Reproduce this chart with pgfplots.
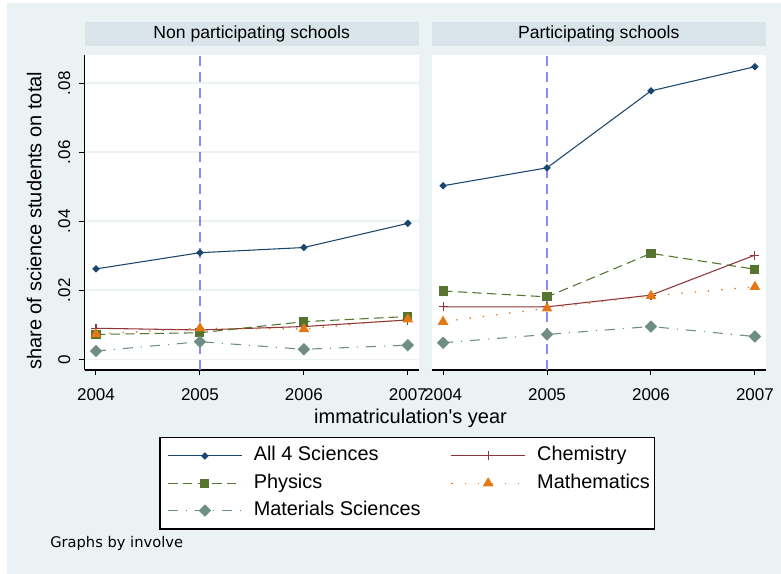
\documentclass[border=0pt]{standalone}
\usepackage{pgfplots}
\pgfplotsset{compat=1.18}
\usepackage{fontspec}
\setmainfont{Liberation Sans}
\newfontfamily\plainsans{Liberation Sans}
\newfontfamily\notefont{DejaVu Sans}

\definecolor{bgc}{RGB}{234,242,243}
\definecolor{stripc}{RGB}{216,228,234}
\definecolor{snavy}{RGB}{26,71,111}
\definecolor{smaroon}{RGB}{144,53,59}
\definecolor{sgreen}{RGB}{85,117,47}
\definecolor{sorange}{RGB}{230,120,20}
\definecolor{steal}{RGB}{110,142,132}
\definecolor{slav}{RGB}{140,140,240}

% Shares of science students: year, all four sciences, chemistry, physics, mathematics, materials
\pgfplotstableread{
year  all     chem    phys    math    mat
2004  0.0262  0.0090  0.0072  0.0073  0.0024
2005  0.0309  0.0085  0.0077  0.0090  0.0051
2006  0.0324  0.0095  0.0109  0.0088  0.0029
2007  0.0394  0.0114  0.0124  0.0116  0.0041
}\nonpart
\pgfplotstableread{
year  all     chem    phys    math    mat
2004  0.0503  0.0152  0.0198  0.0109  0.0048
2005  0.0555  0.0152  0.0181  0.0148  0.0072
2006  0.0778  0.0186  0.0307  0.0184  0.0095
2007  0.0848  0.0302  0.0261  0.0210  0.0066
}\part

\tikzset{
  vline/.style={draw=slav, line width=1.2pt, dash pattern=on 7.5pt off 4.5pt},
}

\pgfplotsset{
  panel/.style={
    scale only axis,
    width=250.5pt, height=236.25pt,
    xmin=2003.891, xmax=2007.104,
    ymin=-0.0031, ymax=0.0882,
    axis background/.style={fill=white},
    axis x line*=bottom,
    axis line style={black, line width=1pt},
    xtick={2004,2005,2006,2007},
    xticklabels={2004,2005,2006,2007},
    ytick={0,0.02,0.04,0.06,0.08},
    scaled y ticks=false,
    ymajorgrids,
    grid style={color=bgc, line width=1.2pt},
    tick align=outside,
    major tick length=4pt,
    tick style={black, line width=0.75pt},
    /pgf/number format/assume math mode=true,
    xticklabel style={font=\fontsize{12.75}{14}\selectfont, inner sep=0pt, anchor=north},
    xticklabel shift=10pt,
    title style={at={(0.5,1)}, anchor=south, yshift=0.75pt, fill=stripc,
      minimum width=250.5pt, minimum height=17.5pt, inner sep=0pt,
      font=\fontsize{13.2}{15}\selectfont},
    clip=false,
  },
  allst/.style={snavy, line width=0.8pt, mark=square*, mark size=1.6pt,
    mark options={rotate=45, solid}},
  chemst/.style={smaroon, line width=0.8pt, mark=+, mark size=3.4pt,
    mark options={solid}},
  physst/.style={sgreen, line width=0.8pt, dash pattern=on 7pt off 4pt,
    mark=square*, mark size=3pt, mark options={solid}},
  mathst/.style={sorange, line width=1pt, dash pattern=on 1pt off 9pt,
    mark=triangle*, mark size=3.6pt, mark options={solid}},
  matst/.style={steal, line width=0.8pt,
    dash pattern=on 7.5pt off 6pt on 0.8pt off 6pt,
    mark=square*, mark size=2.9pt, mark options={rotate=45, solid}},
}

\begin{document}
\begin{tikzpicture}
\useasboundingbox (0pt,0pt) rectangle (585.75pt,430.5pt);
\fill[white] (0pt,0pt) rectangle (585.75pt,430.5pt);
\fill[bgc] (5.25pt,0pt) rectangle (585.75pt,428.25pt);

\begin{axis}[panel,
  at={(63.5pt,153pt)}, anchor=south west,
  title={Non participating schools},
  axis y line*=left,
  yticklabels={0,.02,.04,.06,.08},
  yticklabel style={font=\fontsize{12.75}{14}\selectfont, rotate=90,
    anchor=south, inner sep=0pt},
  yticklabel shift=6.5pt,
  legend columns=2,
  legend cell align=left,
  legend image code/.code={%
    \draw[mark repeat=2, mark phase=2, #1]
      plot coordinates {(0pt,0pt) (27.5pt,0pt) (55pt,0pt)};},
  legend style={
    at={(axis description cs:0.2238,-0.2127)}, anchor=north west,
    draw=black, line width=0.9pt, fill=white,
    inner xsep=5.75pt, inner ysep=5pt,
    font=\fontsize{14.9}{17}\selectfont,
    row sep=3pt,
    nodes={inner xsep=2pt, inner ysep=2pt, text height=10.5pt, text depth=3pt},
    /tikz/every odd column/.append style={column sep=6.8pt},
    /tikz/every even column/.append style={column sep=20.7pt},
  },
]
% policy start year
\draw[vline] (axis cs:2005,-0.0031) -- (axis cs:2005,0.0882);
\addplot[allst]  table[x=year, y=all]  {\nonpart};
\addplot[chemst] table[x=year, y=chem] {\nonpart};
\addplot[physst] table[x=year, y=phys] {\nonpart};
\addplot[mathst] table[x=year, y=math] {\nonpart};
\addplot[matst]  table[x=year, y=mat]  {\nonpart};
\legend{All 4 Sciences, Chemistry, Physics, Mathematics\hspace*{-4.5pt}, Materials Sciences}
\end{axis}

\begin{axis}[panel,
  at={(323.8pt,153pt)}, anchor=south west,
  title={Participating schools},
  axis y line=none,
  yticklabels={},
]
\draw[vline] (axis cs:2005,-0.0031) -- (axis cs:2005,0.0882);
\addplot[allst]  table[x=year, y=all]  {\part};
\addplot[chemst] table[x=year, y=chem] {\part};
\addplot[physst] table[x=year, y=phys] {\part};
\addplot[mathst] table[x=year, y=math] {\part};
\addplot[matst]  table[x=year, y=mat]  {\part};
\end{axis}

\node[font=\plainsans\fontsize{15}{17}\selectfont] at (307.9pt,116.4pt)
  {immatriculation's year};
\node[font=\fontsize{15}{17}\selectfont, rotate=90] at (25.6pt,264.9pt)
  {share of science students on total};
\node[font=\notefont\fontsize{11}{13}\selectfont, anchor=west, inner sep=0pt]
  at (37.5pt,23.1pt) {Graphs by involve};
\end{tikzpicture}
\end{document}
